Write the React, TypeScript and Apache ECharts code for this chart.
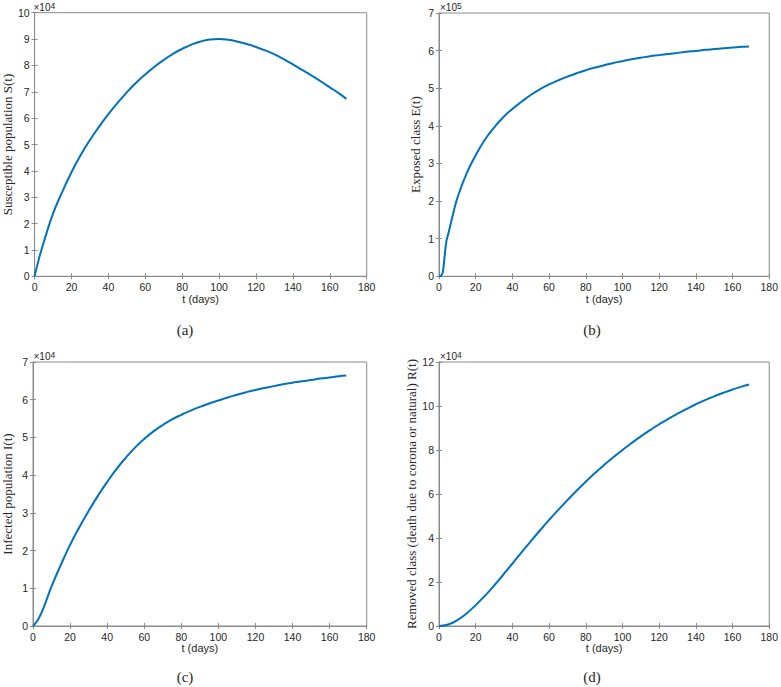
import React, { useEffect, useRef } from "react";
import * as echarts from "echarts";

// Panel (a): susceptible population S(t), values in units of 10^4
const sDays = [0, 2.5, 5, 10, 15, 20, 25, 30, 35, 40, 45, 50, 55, 60, 65, 70, 75, 80, 85, 90, 95, 100, 105, 110, 115, 120, 125, 130, 135, 140, 145, 150, 155, 160, 165, 169];
const sValues = [0, 0.7, 1.3, 2.38, 3.2, 3.95, 4.6, 5.17, 5.68, 6.15, 6.58, 6.98, 7.34, 7.66, 7.95, 8.21, 8.44, 8.63, 8.79, 8.91, 8.98, 9.0, 8.97, 8.9, 8.81, 8.7, 8.57, 8.42, 8.24, 8.04, 7.83, 7.62, 7.4, 7.17, 6.94, 6.73];

// Panel (b): exposed class E(t), values in units of 10^5
const eDays = [0, 1, 2, 3, 4, 5, 6, 8, 10, 15, 20, 25, 30, 35, 40, 45, 50, 55, 60, 65, 70, 75, 80, 85, 90, 95, 100, 105, 110, 115, 120, 125, 130, 135, 140, 145, 150, 155, 160, 165, 169];
const eValues = [0, 0.01, 0.1, 0.5, 0.92, 1.12, 1.32, 1.72, 2.08, 2.73, 3.22, 3.63, 3.95, 4.23, 4.45, 4.64, 4.82, 4.97, 5.1, 5.21, 5.31, 5.4, 5.48, 5.55, 5.61, 5.67, 5.72, 5.77, 5.81, 5.85, 5.88, 5.91, 5.94, 5.97, 5.99, 6.02, 6.04, 6.06, 6.08, 6.1, 6.11];

// Panel (c): infected population I(t), values in units of 10^4
const iDays = [0, 2.5, 5, 7.5, 10, 15, 20, 25, 30, 35, 40, 45, 50, 55, 60, 65, 70, 75, 80, 85, 90, 95, 100, 105, 110, 115, 120, 125, 130, 135, 140, 145, 150, 155, 160, 165, 169];
const iValues = [0, 0.15, 0.4, 0.72, 1.05, 1.62, 2.15, 2.62, 3.05, 3.45, 3.82, 4.16, 4.46, 4.73, 4.96, 5.16, 5.33, 5.48, 5.6, 5.71, 5.81, 5.9, 5.98, 6.06, 6.13, 6.2, 6.26, 6.31, 6.36, 6.41, 6.45, 6.49, 6.52, 6.56, 6.59, 6.62, 6.64];

// Panel (d): removed class R(t), values in units of 10^4
const rDays = [0, 5, 10, 15, 20, 25, 30, 35, 40, 45, 50, 55, 60, 65, 70, 75, 80, 85, 90, 95, 100, 105, 110, 115, 120, 125, 130, 135, 140, 145, 150, 155, 160, 165, 169];
const rValues = [0, 0.07, 0.27, 0.57, 0.95, 1.37, 1.83, 2.33, 2.84, 3.35, 3.85, 4.34, 4.82, 5.28, 5.72, 6.15, 6.56, 6.95, 7.32, 7.67, 8.0, 8.32, 8.62, 8.9, 9.17, 9.42, 9.65, 9.87, 10.08, 10.27, 10.44, 10.6, 10.75, 10.88, 10.98];

const xTitle = "t (days)";
const yTitles = [
  "Susceptible population S(t)",
  "Exposed class E(t)",
  "Infected population I(t)",
  "Removed class (death due to corona or natural) R(t)",
];
const captions = ["(a)", "(b)", "(c)", "(d)"];
const exponents = ["4", "5", "4", "4"];
const yMaxes = [10, 7, 7, 12];
const yIntervals = [1, 1, 1, 2];
const xMax = 180;
const xInterval = 20;

const AXIS_GREY = "#8a8a8a";
const TEXT_DARK = "#262626";
const LINE_BLUE = "#0072BD";

export default function App() {
  const ref = useRef<HTMLDivElement>(null);

  useEffect(() => {
    if (!ref.current) return;
    const chart = echarts.init(ref.current, null, { renderer: "svg" });

    const series = [
      { d: sDays, v: sValues },
      { d: eDays, v: eValues },
      { d: iDays, v: iValues },
      { d: rDays, v: rValues },
    ];

    const layout = [
      { left: 32.5, top: 12.7, width: 334.2, height: 263.6, nameGap: 19, capX: 185, capY: 330 },
      { left: 439, top: 13, width: 333, height: 263.3, nameGap: 17, capX: 592, capY: 330 },
      { left: 32.5, top: 362, width: 334.2, height: 264, nameGap: 19, capX: 185, capY: 677 },
      { left: 439, top: 362, width: 333, height: 264, nameGap: 20, capX: 592, capY: 677 },
    ];

    const grids: any[] = [];
    const xAxes: any[] = [];
    const yAxes: any[] = [];
    const lines: any[] = [];
    const graphics: any[] = [];

    const tickStyle = { show: true, inside: true, length: 3, lineStyle: { color: AXIS_GREY, width: 1 } };
    const lineStyle = { show: true, lineStyle: { color: AXIS_GREY, width: 1 } };
    const labelStyle = { color: TEXT_DARK, fontSize: 10.5, fontFamily: "Liberation Sans, Arial, sans-serif" };

    layout.forEach((L, k) => {
      grids.push({
        left: L.left,
        top: L.top,
        width: L.width,
        height: L.height,
        show: true,
        borderColor: AXIS_GREY,
        borderWidth: 1,
        backgroundColor: "#ffffff",
      });
      xAxes.push({
        type: "value",
        gridIndex: k,
        min: 0,
        max: xMax,
        interval: xInterval,
        position: "bottom",
        axisLine: lineStyle,
        axisTick: tickStyle,
        splitLine: { show: false },
        axisLabel: { ...labelStyle, margin: 5 },
        name: xTitle,
        nameLocation: "middle",
        nameGap: 16,
        nameTextStyle: { color: TEXT_DARK, fontSize: 11, fontFamily: "Liberation Sans, Arial, sans-serif" },
      });
      xAxes.push({
        type: "value",
        gridIndex: k,
        min: 0,
        max: xMax,
        interval: xInterval,
        position: "top",
        axisLine: lineStyle,
        axisTick: tickStyle,
        splitLine: { show: false },
        axisLabel: { show: false },
      });
      yAxes.push({
        type: "value",
        gridIndex: k,
        min: 0,
        max: yMaxes[k],
        interval: yIntervals[k],
        position: "left",
        axisLine: lineStyle,
        axisTick: tickStyle,
        splitLine: { show: false },
        axisLabel: { ...labelStyle, margin: 5 },
        name: yTitles[k],
        nameLocation: "middle",
        nameGap: L.nameGap,
        nameRotate: 90,
        nameTextStyle: { color: TEXT_DARK, fontSize: 13, fontFamily: "Liberation Serif, DejaVu Serif, serif" },
      });
      yAxes.push({
        type: "value",
        gridIndex: k,
        min: 0,
        max: yMaxes[k],
        interval: yIntervals[k],
        position: "right",
        axisLine: lineStyle,
        axisTick: tickStyle,
        splitLine: { show: false },
        axisLabel: { show: false },
      });

      const s = series[k];
      lines.push({
        type: "line",
        xAxisIndex: 2 * k,
        yAxisIndex: 2 * k,
        data: s.d.map((t, i) => [t, s.v[i]]),
        showSymbol: false,
        symbol: "none",
        smooth: 0.5,
        lineStyle: { color: LINE_BLUE, width: 2 },
        z: 3,
      });

      graphics.push({
        type: "text",
        x: L.left + 1,
        y: L.top + 0.5,
        style: {
          text: "×10{sup|" + exponents[k] + "}",
          fill: TEXT_DARK,
          fontSize: 10,
          fontFamily: "Liberation Sans, Arial, sans-serif",
          verticalAlign: "bottom",
          align: "left",
          rich: {
            sup: { fontSize: 8.5, verticalAlign: "top", padding: [0, 0, 3, 0], fill: TEXT_DARK },
          },
        },
      });
      graphics.push({
        type: "text",
        x: L.capX,
        y: L.capY,
        style: {
          text: captions[k],
          fill: TEXT_DARK,
          fontSize: 15,
          fontFamily: "Liberation Serif, DejaVu Serif, serif",
          align: "center",
          verticalAlign: "middle",
        },
      });
    });

    chart.setOption({
      animation: false,
      backgroundColor: "#ffffff",
      grid: grids,
      xAxis: xAxes,
      yAxis: yAxes,
      series: lines,
      graphic: graphics,
    });

    return () => chart.dispose();
  }, []);

  return (
    <div
      ref={ref}
      style={{ position: "fixed", left: 0, top: 0, width: 781, height: 687, background: "#fff" }}
    />
  );
}
